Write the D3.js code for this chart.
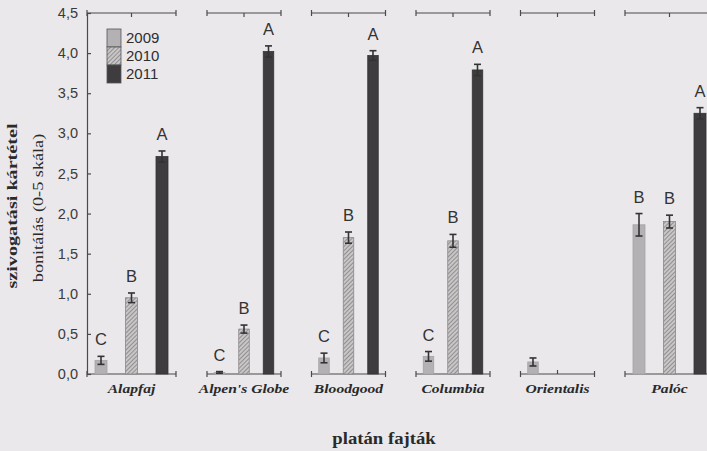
<!DOCTYPE html>
<html>
<head>
<meta charset="utf-8">
<script src="https://cdn.jsdelivr.net/npm/d3@7/dist/d3.min.js"></script>
<style>
  html, body { margin: 0; padding: 0; background: #ebe8eb; }
  svg { display: block; }
</style>
</head>
<body>
<svg id="chart" width="707" height="451"></svg>
<script>
// ---- data ----
const categories = ["Alapfaj", "Alpen's Globe", "Bloodgood", "Columbia", "Orientalis", "Palóc"];
const years = ["2009", "2010", "2011"];
const values2009 = [0.17, 0.02, 0.20, 0.22, 0.15, 1.86];
const values2010 = [0.95, 0.56, 1.70, 1.66, null, 1.90];
const values2011 = [2.71, 4.02, 3.97, 3.79, null, 3.25];
const errors2009 = [0.05, 0.01, 0.06, 0.06, 0.05, 0.14];
const errors2010 = [0.06, 0.05, 0.07, 0.08, null, 0.08];
const errors2011 = [0.07, 0.07, 0.06, 0.07, null, 0.07];
const letters2009 = ["C", "C", "C", "C", "", "B"];
const letters2010 = ["B", "B", "B", "B", "", "B"];
const letters2011 = ["A", "A", "A", "A", "", "A"];
const yTicks = [0, 0.5, 1, 1.5, 2, 2.5, 3, 3.5, 4, 4.5];
const yTitle = "szivogatási kártétel";
const ySubTitle = "bonitálás (0-5 skála)";
const xTitle = "platán fajták";

const seriesValues = [values2009, values2010, values2011];
const seriesErrors = [errors2009, errors2010, errors2011];
const seriesLetters = [letters2009, letters2010, letters2011];

// ---- layout ----
const svg = d3.select("#chart");
const axisColor = "#4a4a4a";
const serif = "'Liberation Serif', 'Times New Roman', serif";
const sans = "'Liberation Sans', Arial, sans-serif";
const y = d3.scaleLinear().domain([0, 4.5]).range([374, 13]);

// segment extents: first and last segments are wider
const segStep = 104.5, segNarrow = 74, segWide = 89;
const segments = categories.map((c, i) => {
  const wide = (i === 0 || i === categories.length - 1);
  const x0 = i === 0 ? 87 : 207 + (i - 1) * segStep;
  const w = wide ? segWide : segNarrow;
  const mid = x0 + w / 2;
  const spacing = wide ? 30.5 : 24.5;
  return {
    x0, x1: x0 + w,
    barW: wide ? 12 : 10.5,
    scale: d3.scalePoint().domain(years).range([mid - spacing, mid + spacing])
  };
});

const defs = svg.append("defs");
const pat = defs.append("pattern")
  .attr("id", "hatch").attr("patternUnits", "userSpaceOnUse")
  .attr("width", 3).attr("height", 3)
  .attr("patternTransform", "rotate(45)");
pat.append("rect").attr("width", 3).attr("height", 3).attr("fill", "#c9c6c8");
pat.append("line").attr("x1", 0).attr("y1", 0).attr("x2", 0).attr("y2", 3)
  .attr("stroke", "#7a7779").attr("stroke-width", 1.4);

const fills = ["#b3b1b3", "url(#hatch)", "#3e3c3e"];
const strokes = ["#a5a3a5", "#8a878a", "#333"];

// y axis
const yAxis = d3.axisLeft(y).tickValues(yTicks)
  .tickFormat(d => d3.format(".1f")(d).replace(".", ","))
  .tickSize(-4).tickPadding(9);
const gy = svg.append("g").attr("transform", "translate(87,0)").call(yAxis);
gy.select(".domain").attr("stroke", axisColor).attr("stroke-width", 1.2);
gy.selectAll(".tick line").attr("stroke", axisColor).attr("stroke-width", 1.2);
gy.selectAll(".tick text")
  .attr("fill", "#3a3a3a")
  .style("font-family", sans)
  .style("font-size", "14.5px");

// broken x axis segments (bottom and top)
segments.forEach((s, i) => {
  [y(0), y(4.5)].forEach((yy, k) => {
    const g = svg.append("g");
    g.append("line").attr("x1", s.x0).attr("x2", s.x1).attr("y1", yy).attr("y2", yy)
      .attr("stroke", axisColor).attr("stroke-width", 1.2);
    [s.x0, s.x1].forEach(xx => {
      g.append("line").attr("x1", xx).attr("x2", xx).attr("y1", yy - 3).attr("y2", yy + 3)
        .attr("stroke", axisColor).attr("stroke-width", 1.2);
    });
    const xm = (s.x0 + s.x1) / 2;
    g.append("line").attr("x1", xm).attr("x2", xm)
      .attr("y1", yy).attr("y2", k === 0 ? yy - 4 : yy + 4)
      .attr("stroke", axisColor).attr("stroke-width", 1.2);
  });
  svg.append("text")
    .attr("transform", `translate(${(s.x0 + s.x1) / 2},393) scale(1.2,1)`)
    .attr("text-anchor", "middle")
    .attr("fill", "#2a2a2a")
    .style("font-family", serif)
    .style("font-weight", "bold").style("font-style", "italic")
    .style("font-size", "13px")
    .text(categories[i]);
});

// bars
years.forEach((yr, si) => {
  categories.forEach((c, ci) => {
    const v = seriesValues[si][ci];
    if (v === null || v === undefined) return;
    const s = segments[ci];
    const bw = s.barW;
    const cx = s.scale(yr);
    const bx = cx - bw / 2;
    svg.append("rect")
      .attr("x", bx).attr("y", y(v))
      .attr("width", bw).attr("height", y(0) - y(v))
      .attr("fill", fills[si]).attr("stroke", strokes[si]).attr("stroke-width", 0.8);
    const e = seriesErrors[si][ci];
    const g = svg.append("g").attr("stroke", "#333").attr("stroke-width", 1.6);
    g.append("line").attr("x1", cx).attr("x2", cx).attr("y1", y(v + e)).attr("y2", y(Math.max(0, v - e)));
    g.append("line").attr("x1", cx - 3.5).attr("x2", cx + 3.5).attr("y1", y(v + e)).attr("y2", y(v + e));
    g.append("line").attr("x1", cx - 3.5).attr("x2", cx + 3.5).attr("y1", y(Math.max(0, v - e))).attr("y2", y(Math.max(0, v - e)));
    const L = seriesLetters[si][ci];
    if (L) {
      svg.append("text")
        .attr("x", cx).attr("y", y(v + e) - 11)
        .attr("text-anchor", "middle")
        .attr("fill", "#333")
        .style("font-family", sans)
        .style("font-size", "16.5px")
        .text(L);
    }
  });
});

// legend
const leg = svg.append("g").attr("transform", "translate(107,29)");
years.forEach((yr, i) => {
  leg.append("rect").attr("x", 0).attr("y", i * 18).attr("width", 14).attr("height", 18)
    .attr("fill", fills[i]).attr("stroke", "#555").attr("stroke-width", 0.8);
  leg.append("text").attr("x", 19).attr("y", i * 18 + 14)
    .attr("fill", "#2e2e2e")
    .style("font-family", sans)
    .style("font-size", "15px")
    .text(yr);
});

// axis titles
svg.append("text")
  .attr("transform", "translate(17,206) rotate(-90) scale(1.3,1)")
  .attr("text-anchor", "middle")
  .attr("fill", "#2a2a2a")
  .style("font-family", serif)
  .style("font-weight", "bold").style("font-size", "15.5px")
  .text(yTitle);
svg.append("text")
  .attr("transform", "translate(43,208) rotate(-90) scale(1.3,1)")
  .attr("text-anchor", "middle")
  .attr("fill", "#2a2a2a")
  .style("font-family", serif)
  .style("font-size", "14px")
  .text(ySubTitle);
svg.append("text")
  .attr("transform", "translate(384,444) scale(1.17,1)")
  .attr("text-anchor", "middle")
  .attr("fill", "#2a2a2a")
  .style("font-family", serif)
  .style("font-weight", "bold").style("font-size", "16px")
  .text(xTitle);
</script>
</body>
</html>
